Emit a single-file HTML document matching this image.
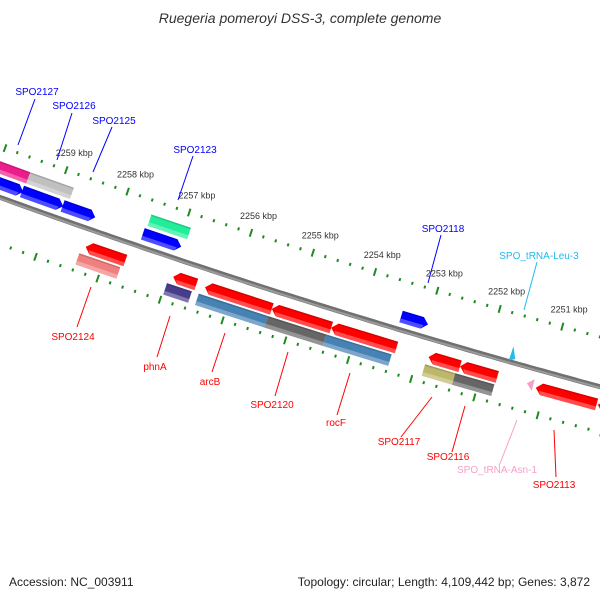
<!DOCTYPE html>
<html><head><meta charset="utf-8"><style>
html,body{margin:0;padding:0;background:#fff;}
svg{display:block;font-family:"Liberation Sans","DejaVu Sans",sans-serif;}
</style></head><body>
<svg id="map" width="600" height="600" viewBox="0 0 600 600" xmlns="http://www.w3.org/2000/svg">
<rect width="600" height="600" fill="#fff"/>
<text x="300" y="23" text-anchor="middle" font-size="14" font-style="italic" fill="#333">Ruegeria pomeroyi DSS-3, complete genome</text>
<g id="ticks"></g>
<g id="backbone"></g>
<g id="features"></g>
<g id="labels"></g>
<text x="9" y="586" font-size="12" fill="#222">Accession: NC_003911</text>
<text x="590" y="586" text-anchor="end" font-size="12" fill="#222">Topology: circular; Length: 4,109,442 bp; Genes: 3,872</text>
</svg>
<script>
// Feature data (kbp)
const fwdCdsNames = ["SPO2127","SPO2126","SPO2125","SPO2123","SPO2118"];
const fwdCdsStart = [2260.35,2259.53,2258.87,2257.57,2253.42];
const fwdCdsEnd   = [2259.51,2258.86,2258.34,2256.95,2252.99];
const fwdOtherStart = [2260.43,2259.51,2257.54];
const fwdOtherEnd   = [2259.51,2258.80,2256.90];
const fwdOtherColors = ["#ec1c8c","#c0c0c0","#22ee99"];
const revCdsNames = ["SPO2124","phnA","arcB","SPO2120","rocF","SPO2117","SPO2116","SPO2113","SPO2112"];
const revCdsStart = [2258.33,2256.92,2256.41,2255.34,2254.39,2252.84,2252.34,2251.14,2250.16];
const revCdsEnd   = [2257.69,2256.55,2255.34,2254.39,2253.35,2252.34,2251.75,2250.18,2249.40];
const revOtherStart = [2258.39,2256.98,2256.47,2255.36,2254.43,2252.86,2252.38];
const revOtherEnd   = [2257.73,2256.58,2255.36,2254.43,2253.39,2252.38,2251.76];
const revOtherColors = ["#f08080","#483d8b","#4682b4","#666666","#4682b4","#bdb76b","#666666"];
const trnaNames = ["SPO_tRNA-Leu-3","SPO_tRNA-Asn-1"];
const trnaPos = [2251.61,2251.23];
const tickLabels = [2259,2258,2257,2256,2255,2254,2253,2252,2251];

const NS="http://www.w3.org/2000/svg";
const CX=2555, CY=-6854;
function ang(p){return (109.51+(p-2259)*0.5)*Math.PI/180;}
function pt(p,r){const a=ang(p);return [CX+r*Math.cos(a),CY+r*Math.sin(a)];}
function mk(tag,attrs,parent){const e=document.createElementNS(NS,tag);for(const k in attrs)e.setAttribute(k,attrs[k]);parent.appendChild(e);return e;}
function ps(arr){return arr.map(q=>q[0].toFixed(1)+","+q[1].toFixed(1)).join(" ");}

// backbone
const bb=document.getElementById('backbone');
const bpts=[];for(let p=2261;p>=2249;p-=0.1)bpts.push(pt(p,7500));
const b1=mk('polyline',{points:ps(bpts),fill:'none',stroke:'#707070','stroke-width':5},bb);


const b2=mk('polyline',{points:ps(bpts.map((q,i)=>pt(2261-i*0.1,7501))),fill:'none',stroke:'#9a9a9a','stroke-width':2},bb);



// ticks
const tg=document.getElementById('ticks');
[7452,7544].forEach(rr=>{
  for(let i=0;i<=60;i++){
    const p=2261-i*0.2; const major=Math.abs(p-Math.round(p))<0.01;
    const L=major?4:1.5;
    const a=pt(p,rr-L),b=pt(p,rr+L);
    const t=mk('line',{x1:a[0],y1:a[1],x2:b[0],y2:b[1],stroke:'#1f8a1f','stroke-width':2},tg);
    
    
  }
});
tickLabels.forEach(k=>{
  const q=pt(k,7434);
  const t=mk('text',{x:q[0]+2,y:q[1]+3,'text-anchor':'middle','font-size':9,fill:'#333'},tg);
  t.textContent=k+" kbp";
  
  
});

// features
const fg=document.getElementById('features');
const AH=0.09, H=6;
function feature(p1,p2,rc,color,dir,name){
  let poly;
  if(dir>0) poly=[pt(p1,rc-H),pt(p2+AH,rc-H),pt(p2,rc),pt(p2+AH,rc+H),pt(p1,rc+H)];
  else if(dir<0) poly=[pt(p2,rc-H),pt(p1-AH,rc-H),pt(p1,rc),pt(p1-AH,rc+H),pt(p2,rc+H)];
  else poly=[pt(p1,rc-H),pt(p2,rc-H),pt(p2,rc+H),pt(p1,rc+H)];
  const g=mk('g',{},fg);
  
  
  mk('polygon',{points:ps(poly),fill:color},g);
  let sh;
  if(dir>0) sh=[pt(p1,rc+2),pt(p2+AH*0.66,rc+2),pt(p2+AH,rc+H),pt(p1,rc+H)];
  else if(dir<0) sh=[pt(p2,rc+2),pt(p1-AH*0.66,rc+2),pt(p1-AH,rc+H),pt(p2,rc+H)];
  else sh=[pt(p1,rc+2),pt(p2,rc+2),pt(p2,rc+H),pt(p1,rc+H)];
  mk('polygon',{points:ps(sh),fill:'#fff','fill-opacity':0.3},g);
  const tp=dir<0?[pt(p2,rc-H),pt(p1-AH,rc-H),pt(p1-AH*0.8,rc-H+1.5),pt(p2,rc-H+1.5)]:[pt(p1,rc-H),pt(dir>0?p2+AH:p2,rc-H),pt(dir>0?p2+AH*0.8:p2,rc-H+1.5),pt(p1,rc-H+1.5)];
  mk('polygon',{points:ps(tp),fill:'#000','fill-opacity':0.15},g);
}
fwdOtherStart.forEach((s,i)=>feature(s,fwdOtherEnd[i],7472,fwdOtherColors[i],0,'forward-feature-'+i));
fwdCdsStart.forEach((s,i)=>feature(s,fwdCdsEnd[i],7487,'#0000ff',1,'cds-'+fwdCdsNames[i].toLowerCase()));
revCdsStart.forEach((s,i)=>feature(s,revCdsEnd[i],7518,'#ff0000',-1,'cds-'+revCdsNames[i].toLowerCase()));
revOtherStart.forEach((s,i)=>feature(s,revOtherEnd[i],7532,revOtherColors[i],0,'reverse-feature-'+i));
// tRNAs
(function(){
  const p=trnaPos[0];
  const a=pt(p+0.06,7487),b=pt(p-0.04,7494),c=pt(p+0.06,7499);
  const t=mk('polygon',{points:ps([pt(p+0.03,7484),pt(p-0.05,7496),pt(p+0.04,7499)]),fill:'#22bbee'},fg);
  
  
  const q=trnaPos[1];
  const u=mk('polygon',{points:ps([pt(q-0.04,7510),pt(q+0.06,7516),pt(q-0.04,7522)]),fill:'#f5a0c8'},fg);
  
  
})();

// labels (text, color, x, y, line x1,y1,x2,y2)
const lg=document.getElementById('labels');
const labels=[
 ["SPO2127","#0000ff",37,95,35,99,18,145],
 ["SPO2126","#0000ff",74,109,72,113,57,160],
 ["SPO2125","#0000ff",114,124,112,127,93,172],
 ["SPO2123","#0000ff",195,153,193,156,178,200],
 ["SPO2118","#0000ff",443,232,441,235,428,283],
 ["SPO_tRNA-Leu-3","#22bbee",539,259,537,262,524,310],
 ["SPO2124","#ff0000",73,340,91,287,77,327],
 ["phnA","#ff0000",155,370,170,316,157,357],
 ["arcB","#ff0000",210,385,225,333,212,372],
 ["SPO2120","#ff0000",272,408,288,352,275,396],
 ["rocF","#ff0000",336,426,350,373,337,415],
 ["SPO2117","#ff0000",399,445,432,397,401,437],
 ["SPO2116","#ff0000",448,460,465,406,452,452],
 ["SPO_tRNA-Asn-1","#f5a0c8",497,473,517,420,499,466],
 ["SPO2113","#ff0000",554,488,554,430,556,477]
];
labels.forEach(l=>{
  const ln=mk('line',{x1:l[4],y1:l[5],x2:l[6],y2:l[7],stroke:l[1],'stroke-width':1},lg);
  
  
  const t=mk('text',{x:l[2],y:l[3],'text-anchor':'middle','font-size':10,fill:l[1]},lg);
  t.textContent=l[0];
  
  
});
</script>
</body></html>
